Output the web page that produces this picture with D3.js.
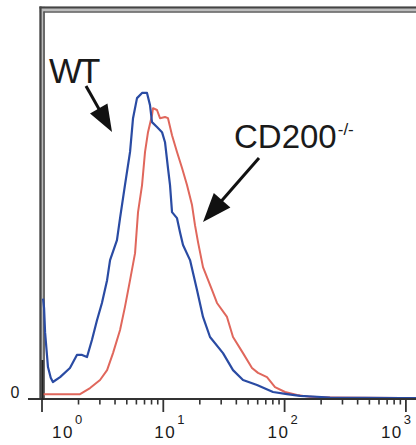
<!DOCTYPE html>
<html>
<head>
<meta charset="utf-8">
<script src="https://cdn.jsdelivr.net/npm/d3@7"></script>
<style>
html,body{margin:0;padding:0;background:#fff;}
svg{display:block;}
text{font-family:Arial,"Liberation Sans",Helvetica,sans-serif;fill:#1a1a1a;}
</style>
</head>
<body>
<svg id="chart" width="416" height="445"></svg>
<script>
// Fluorescence intensity (x) and cell counts (y)
const wtIntensity = [1.02,1.04,1.06,1.12,1.18,1.23,1.41,1.70,1.94,2.14,2.35,2.58,2.84,3.12,3.44,3.64,4.15,4.40,4.83,5.32,5.63,6.07,6.68,7.34,7.77,8.07,8.87,9.76,10.33,10.93,11.36,11.80,12.97,13.73,14.54,16.61,18.96,21.25,24.27,31.06,37.56,45.41,59.23,80.24,104.7,134,236.8,900,5000];
const wtCount     = [33,30,22,10.5,7,5.6,7.2,10.2,14.5,14.5,13.8,19.4,25.9,31.6,39.1,45.7,52.3,59.5,70.4,81.3,92.4,99,100.7,100.7,96.7,91.1,89.5,87.8,84.5,76,70.4,61.5,59.5,54.9,50.7,45.7,35.9,27,20.4,15.1,9.5,6.25,4.6,2.3,1.6,1.0,0.5,0.3,0.3];

const koIntensity = [1.02,2.06,2.49,3.01,3.44,3.85,4.40,4.83,5.32,5.85,6.19,6.68,7.07,7.48,8.07,8.23,8.87,9.39,10.33,10.93,11.80,12.97,14.27,15.68,17.25,18.25,19.33,21.25,25.20,27.71,33.50,37.56,45.41,53.85,60.35,71.58,83.36,100.8,126.6,162,236.8,900,5000];
const koCount     = [1.6,1.6,3.6,6.25,9.5,15.1,22.7,30.3,39.1,48.0,61.5,70.4,81.3,87.8,93.4,95.7,95.1,92.4,92.8,92.4,86.8,81.3,76.0,70.4,63.8,57.2,51.6,43.4,35.9,31.6,27.0,20.4,15.1,10.2,8.6,7.2,3.9,2.3,1.3,0.7,0.5,0.3,0.3];

const majorTicks = [1,10,100,1000,10000];
const labelTicks = [1,10,100,1000];
const tickExponents = ["0","1","2","3"];
const yTickLabels = ["0"];
const seriesNames = ["WT","CD200"];
const koSuperscript = "-/-";

const svg = d3.select("#chart");
const x = d3.scaleLog().domain([1,10000]).range([42, 42 + 4*121.3]);
const y = d3.scaleLinear().domain([0,128]).range([399, 10]);

// frame (double line at top and left)
svg.append("rect").attr("x",39.5).attr("y",6.5).attr("width",420).attr("height",6).attr("fill","#bdbdbd");
svg.append("rect").attr("x",39.5).attr("y",6.5).attr("width",5.5).attr("height",393).attr("fill","#bdbdbd");
svg.append("line").attr("x1",39.5).attr("x2",416).attr("y1",7.5).attr("y2",7.5).attr("stroke","#444").attr("stroke-width",2.2);
svg.append("line").attr("x1",43.5).attr("x2",416).attr("y1",12).attr("y2",12).attr("stroke","#666").attr("stroke-width",1.6);
svg.append("line").attr("x1",40.5).attr("x2",40.5).attr("y1",6.5).attr("y2",399).attr("stroke","#444").attr("stroke-width",2.2);
svg.append("line").attr("x1",44).attr("x2",44).attr("y1",11.5).attr("y2",399).attr("stroke","#555").attr("stroke-width",1.6);

// curves
const line = d3.line().x(d=>x(d[0])).y(d=>y(d[1])).curve(d3.curveLinear);
svg.append("path").datum(koIntensity.map((v,i)=>[v,koCount[i]]))
  .attr("d",line).attr("fill","none").attr("stroke","#e0675c").attr("stroke-width",2).attr("stroke-linejoin","round");
svg.append("path").datum(wtIntensity.map((v,i)=>[v,wtCount[i]]))
  .attr("d",line).attr("fill","none").attr("stroke","#2a4ba3").attr("stroke-width",2.2).attr("stroke-linejoin","round");

// x axis
const minor = [];
majorTicks.slice(0,-1).forEach(m=>{ for(let k=2;k<=9;k++) minor.push(m*k); });
const axisG = svg.append("g").attr("transform","translate(0,399)");
axisG.append("line").attr("x1",28).attr("x2",416).attr("y1",0).attr("y2",0).attr("stroke","#333").attr("stroke-width",2.2);
axisG.selectAll(".minor").data(minor).join("line")
  .attr("x1",d=>x(d)).attr("x2",d=>x(d)).attr("y1",0).attr("y2",5.5)
  .attr("stroke","#333").attr("stroke-width",1.6);
axisG.selectAll(".major").data(majorTicks).join("line")
  .attr("x1",d=>x(d)).attr("x2",d=>x(d)).attr("y1",0).attr("y2",13)
  .attr("stroke","#333").attr("stroke-width",1.8);
svg.append("line").attr("x1",42.5).attr("x2",42.5).attr("y1",360).attr("y2",400).attr("stroke","#222").attr("stroke-width",2);

const labelShift = [10, -9, -17, -25];
labelTicks.forEach((v,i)=>{
  const t = svg.append("text").attr("x", x(v)+labelShift[i]).attr("y",438)
    .attr("font-size",17).attr("letter-spacing",1.5);
  t.append("tspan").text("10");
  t.append("tspan").attr("font-size",13).attr("dy",-14).attr("dx",1).text(tickExponents[i]);
});

// y label
svg.append("text").attr("x",15).attr("y",y(0)-1).attr("text-anchor","middle")
  .attr("font-size",16).text(yTickLabels[0]);

// annotations
svg.append("text").attr("x",49).attr("y",83).attr("font-size",35).attr("letter-spacing",-3).text(seriesNames[0]);
const ct = svg.append("text").attr("x",234).attr("y",148).attr("font-size",33);
ct.append("tspan").text(seriesNames[1]);
ct.append("tspan").attr("font-size",17).attr("dy",-13).attr("dx",1).text(koSuperscript);

function arrow(x1,y1,x2,y2,len,hw){
  const dx=x2-x1, dy=y2-y1, L=Math.hypot(dx,dy), ux=dx/L, uy=dy/L;
  const bx=x2-ux*len, by=y2-uy*len;
  svg.append("line").attr("x1",x1).attr("y1",y1).attr("x2",bx+ux*2).attr("y2",by+uy*2)
    .attr("stroke","#111").attr("stroke-width",3);
  svg.append("path").attr("d",`M${x2},${y2}L${bx-uy*hw},${by+ux*hw}L${bx+uy*hw},${by-ux*hw}Z`).attr("fill","#111");
}
arrow(86,86,112,132,27,10);
arrow(259,158,203,222,29,11);
</script>
</body>
</html>
